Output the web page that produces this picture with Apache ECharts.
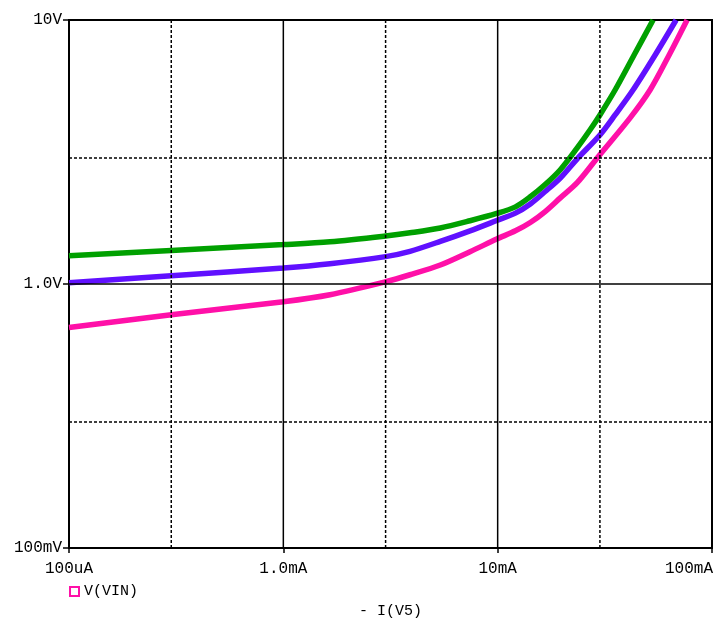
<!DOCTYPE html>
<html>
<head>
<meta charset="utf-8">
<script src="https://cdn.jsdelivr.net/npm/echarts@6/dist/echarts.min.js"></script>
<style>html,body{margin:0;padding:0;background:#fff;}#c{width:725px;height:619px;}</style>
</head>
<body>
<div id="c"></div>
<script>
// Current in mA, voltage in V
var greenI  = [0.1, 0.3, 1.0, 1.65, 3.0, 3.9, 5.4, 7.43, 9.9, 12.1, 14.2, 16.6, 19.6, 23.5, 27.0, 30.0, 35.3, 43.3, 53.1];
var greenV  = [1.28, 1.34, 1.41, 1.445, 1.52, 1.563, 1.63, 1.736, 1.85, 1.96, 2.14, 2.375, 2.71, 3.28, 3.84, 4.37, 5.43, 7.37, 10];
var purpleI = [0.1, 0.3, 1.0, 1.65, 3.0, 3.9, 5.4, 7.43, 9.9, 12.1, 14.2, 16.6, 19.6, 23.5, 30.0, 35.3, 42.8, 54.3, 68.0];
var purpleV = [1.01, 1.075, 1.15, 1.193, 1.27, 1.33, 1.45, 1.59, 1.74, 1.855, 2.01, 2.235, 2.52, 2.98, 3.67, 4.37, 5.43, 7.37, 10];
var pinkI   = [0.1, 0.3, 1.0, 1.65, 3.0, 3.9, 5.4, 7.43, 9.9, 12.1, 14.2, 16.6, 19.6, 23.5, 29.4, 41.5, 51.4, 63.1, 76.5];
var pinkV   = [0.684, 0.765, 0.857, 0.911, 1.02, 1.084, 1.18, 1.325, 1.48, 1.59, 1.71, 1.877, 2.12, 2.42, 3.03, 4.26, 5.43, 7.37, 10];

var xTickLabels = ['100uA', '1.0mA', '10mA', '100mA'];   // 0.1mA .. 100mA
var yTickLabels = ['100mV', '1.0V', '10V'];              // 0.1V .. 10V
var xMajor = [1, 10];
var xMinor = [0.3, 3, 30];
var yMajor = [1];
var yMinor = [0.3, 3];
var X_MIN = 0.1, X_MAX = 100, Y_MIN = 0.1, Y_MAX = 10;

function pairs(a, b) { return a.map(function (v, i) { return [v, b[i]]; }); }

var FONT = '"Liberation Mono", "DejaVu Sans Mono", monospace';
var chart = echarts.init(document.getElementById('c'), null, {renderer: 'canvas'});

function gridSeries(data, dashed) {
  return {type: 'line', data: data, silent: true, showSymbol: false, symbol: 'none', z: 10,
          lineStyle: {color: '#000', width: 1.5, type: dashed ? [3, 2] : 'solid'}};
}

var series = [
  {name: 'V(VIN)', type: 'line', data: pairs(pinkI, pinkV), smooth: 0.3, showSymbol: false,
   lineStyle: {color: '#ff10a8', width: 5.5}, itemStyle: {color: '#ff10a8'}, z: 3},
  {name: 'purple', type: 'line', data: pairs(purpleI, purpleV), smooth: 0.3, showSymbol: false,
   lineStyle: {color: '#6010ff', width: 5.5}, itemStyle: {color: '#6010ff'}, z: 3},
  {name: 'green', type: 'line', data: pairs(greenI, greenV), smooth: 0.3, showSymbol: false,
   lineStyle: {color: '#00a000', width: 5.5}, itemStyle: {color: '#00a000'}, z: 4}
];
xMajor.forEach(function (v) { series.push(gridSeries([[v, Y_MIN], [v, Y_MAX]], false)); });
yMajor.forEach(function (v) { series.push(gridSeries([[X_MIN, v], [X_MAX, v]], false)); });
xMinor.forEach(function (v) { series.push(gridSeries([[v, Y_MIN], [v, Y_MAX]], true)); });
yMinor.forEach(function (v) { series.push(gridSeries([[X_MIN, v], [X_MAX, v]], true)); });

chart.setOption({
  animation: false,
  backgroundColor: '#fff',
  grid: {left: 69, right: 13, top: 20, bottom: 71, containLabel: false, outerBoundsMode: 'none',
         show: true, borderColor: '#000', borderWidth: 2, backgroundColor: 'transparent'},
  legend: {
    data: ['V(VIN)'], left: 64, top: 579, icon: 'rect', itemWidth: 9, itemHeight: 9, itemGap: 6,
    itemStyle: {color: '#fff', borderColor: '#ff10a8', borderWidth: 2},
    textStyle: {fontFamily: FONT, fontSize: 15, color: '#000'}
  },
  xAxis: {
    type: 'log', logBase: 10, min: X_MIN, max: X_MAX,
    name: '- I(V5)', nameLocation: 'middle', nameGap: 56,
    nameTextStyle: {fontFamily: FONT, fontSize: 15, color: '#000'},
    axisLine: {lineStyle: {color: '#000', width: 2}},
    axisTick: {show: true, length: 5, lineStyle: {color: '#000', width: 1.5}},
    splitLine: {show: false},
    axisLabel: {
      fontFamily: FONT, fontSize: 16, color: '#000', margin: 13,
      formatter: function (v) {
        var k = Math.round(Math.log10(v)) + 1;
        var s = xTickLabels[k] || '';
        return k === xTickLabels.length - 1 ? '{r|' + s + '}' : s;
      },
      rich: {r: {fontFamily: FONT, fontSize: 16, color: '#000', padding: [0, 46, 0, 0]}}
    }
  },
  yAxis: {
    type: 'log', logBase: 10, min: Y_MIN, max: Y_MAX,
    axisLine: {lineStyle: {color: '#000', width: 2}},
    axisTick: {show: true, length: 6, lineStyle: {color: '#000', width: 1.5}},
    splitLine: {show: false},
    axisLabel: {
      fontFamily: FONT, fontSize: 16, color: '#000', margin: 7,
      formatter: function (v) { var k = Math.round(Math.log10(v)) + 1; return yTickLabels[k] || ''; }
    }
  },
  series: series
});
</script>
</body>
</html>
